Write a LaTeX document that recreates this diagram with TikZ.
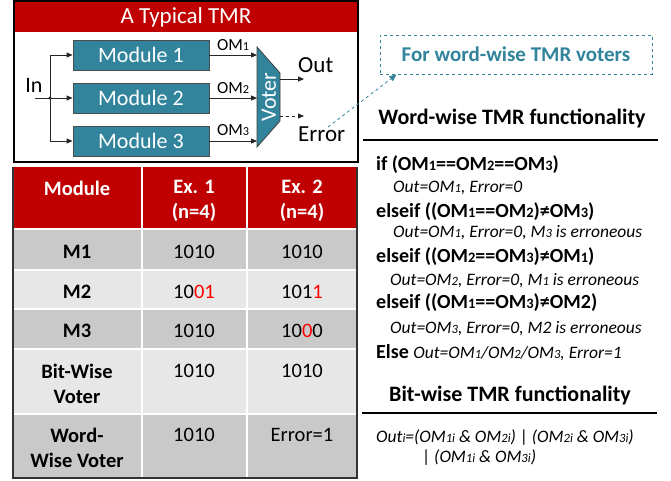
\documentclass[tikz,border=0pt]{standalone}
\usepackage{fontspec}
\setmainfont{Carlito}
\usetikzlibrary{arrows.meta,calc}
\definecolor{tmrred}{RGB}{192,0,0}
\definecolor{tealc}{RGB}{49,132,155}
\definecolor{rowdark}{RGB}{201,201,201}
\definecolor{rowlight}{RGB}{231,231,231}
\newcommand\fs[1]{\fontsize{#1}{#1}\selectfont}
\newcommand\sdg[1]{\scalebox{0.72}{#1}}
\begin{document}
\begin{tikzpicture}[x=1pt,y=-1pt,
  modbox/.style={draw=black!70, line width=0.8pt, fill=tealc, text=white,
    minimum width=136pt, minimum height=30pt, inner sep=0pt, font=\fs{22}},
  sig/.style={draw=black!85, line width=0.9pt, -{Triangle[length=6pt,width=5pt]}},
  lbl/.style={inner sep=0pt, font=\fs{23}},
  oml/.style={inner sep=0pt, font=\fs{17}},
  cellt/.style={inner sep=0pt, align=center, font=\fontsize{20.5}{25}\selectfont},
  cellh/.style={inner sep=0pt, align=center, text=white, font=\bfseries\fontsize{20.5}{25}\selectfont},
  cellb/.style={inner sep=0pt, align=center, font=\bfseries\fontsize{20.5}{25}\selectfont},
  codeb/.style={anchor=west, inner sep=0pt, font=\bfseries\fs{20}},
  codei/.style={anchor=west, inner sep=0pt, font=\itshape\fs{17.5}},
  headt/.style={inner sep=0pt, font=\bfseries\fs{22}}]

\fill[white] (0,0) rectangle (671,480);
\useasboundingbox (0,0) rectangle (671,480);

% ---------- TMR block diagram ----------
\fill[tmrred] (14,1) rectangle (358,32);
\draw[line width=2pt] (14,1) rectangle (358,162);
\node[inner sep=0pt, text=white, font=\fs{23}] (title) at (186,17) {A Typical TMR};

\node[modbox] (m1) at (141,55) {Module 1};
\node[modbox] (m2) at (141,98) {Module 2};
\node[modbox] (m3) at (141,141) {Module 3};

\node[lbl, font=\fs{22}] (inl) at (34,85) {In};
\coordinate (ins) at (35,98);
\coordinate (br) at (50,98);
\draw[sig] (ins) -- (m2.west);
\draw[sig] (br) |- (m1.west);
\draw[sig] (br) |- (m3.west);
\fill[black!85] (br) circle (1.6pt);

% voter
\draw[black!75, line width=0.8pt, fill=tealc] (257,47) -- (280,73) -- (280,121) -- (257,147) -- cycle;
\node[inner sep=0pt, rotate=90, text=white, font=\fs{22}] (voter) at (269,97) {Voter};
\coordinate (v1) at (257,55);
\coordinate (v2) at (257,98);
\coordinate (v3) at (257,141);
\draw[sig] (m1.east) -- (v1);
\draw[sig] (m2.east) -- (v2);
\draw[sig] (m3.east) -- (v3);
\node[oml] (om1) at (233,45) {OM\sdg{1}};
\node[oml] (om2) at (233,88) {OM\sdg{2}};
\node[oml] (om3) at (233,130) {OM\sdg{3}};

\coordinate (vo) at (280,79);
\coordinate (ve) at (280,116);
\coordinate (vot) at (304,79);
\coordinate (vet) at (304,116);
\node[lbl, anchor=west] (out) at (298,65) {Out};
\node[lbl, anchor=west] (err) at (298,134) {Error};
\draw[sig] (vo) -- (vot);
\draw[sig, dashed] (ve) -- (vet);

% ---------- callout ----------
\node[draw=tealc, dashed, line width=1pt, minimum width=272pt, minimum height=39pt,
  inner sep=0pt, text=tealc, font=\bfseries\fs{21}] (cb) at (516,54.5) {For word-wise TMR voters};
\coordinate (errc) at (328,127);
\draw[tealc, dashed, line width=0.8pt, -{Triangle[length=7pt,width=6pt]}] (errc) -- ($(cb.south west)+(17,0)$);

% ---------- comparison table ----------
\fill[tmrred] (13,167) rectangle (357,229);
\fill[rowdark] (13,229) rectangle (357,270);
\fill[rowlight] (13,270) rectangle (357,309);
\fill[rowdark] (13,309) rectangle (357,349);
\fill[rowlight] (13,349) rectangle (357,414);
\fill[rowdark] (13,414) rectangle (357,478);
\foreach \yy in {229,270,309,349,414} \draw[white, line width=1.5pt] (13,\yy) -- (357,\yy);
\foreach \xx in {142,247} \draw[white, line width=1.5pt] (\xx,167) -- (\xx,478);
\draw[black!80, line width=1.5pt] (13,167) -- (13,478) -- (357,478) -- (357,167);

\node[cellh] (hmod) at (77,188) {Module};
\node[cellh] (hex1) at (194,200.5) {Ex. 1\\(n=4)};
\node[cellh] (hex2) at (302,200.5) {Ex. 2\\(n=4)};

\node[cellb] (rm1) at (77,252) {M1};
\node[cellt] (a1) at (194,252) {1010};
\node[cellt] (b1) at (302,252) {1010};

\node[cellb] (rm2) at (77,292) {M2};
\node[cellt] (a2) at (194,292) {10\textcolor{red}{01}};
\node[cellt] (b2) at (302,292) {101\textcolor{red}{1}};

\node[cellb] (rm3) at (77,331) {M3};
\node[cellt] (a3) at (194,331) {1010};
\node[cellt] (b3) at (302,331) {10\textcolor{red}{0}0};

\node[cellb] (rbw) at (77,383.5) {Bit-Wise\\Voter};
\node[cellt] (a4) at (194,371) {1010};
\node[cellt] (b4) at (302,371) {1010};

\node[cellb] (rww) at (77,447.5) {Word-\\Wise Voter};
\node[cellt] (a5) at (194,435) {1010};
\node[cellt] (b5) at (302,435) {Error=1};

% ---------- functionality text ----------
\node[headt] (wwh) at (512,118) {Word-wise TMR functionality};
\draw[line width=2pt] (363,140) -- (658,140);

\node[codeb] (c1) at (376,165) {if (OM\sdg{1}==OM\sdg{2}==OM\sdg{3})};
\node[codei] (c2) at (393,188) {Out=OM\sdg{1}, Error=0};
\node[codeb] (c3) at (376,212) {elseif ((OM\sdg{1}==OM\sdg{2})≠OM\sdg{3})};
\node[codei] (c4) at (393,233) {Out=OM\sdg{1}, Error=0, M\sdg{3} is erroneous};
\node[codeb] (c5) at (376,257) {elseif ((OM\sdg{2}==OM\sdg{3})≠OM\sdg{1})};
\node[codei] (c6) at (390,281) {Out=OM\sdg{2}, Error=0, M\sdg{1} is erroneous};
\node[codeb] (c7) at (376,303) {elseif ((OM\sdg{1}==OM\sdg{3})≠OM2)};
\node[codei] (c8) at (390,329) {Out=OM\sdg{3}, Error=0, M2 is erroneous};
\node[codeb] (c9) at (376,353) {Else {\mdseries\itshape\fs{17.5}Out=OM\sdg{1}/OM\sdg{2}/OM\sdg{3}, Error=1}};

\node[headt] (bwh) at (510,395) {Bit-wise TMR functionality};
\draw[line width=2pt] (362,413) -- (657,413);

\node[codei] (d1) at (376,438) {Out\sdg{i}=(OM\sdg{1i} \& OM\sdg{2i}) {\upshape|} (OM\sdg{2i} \& OM\sdg{3i})};
\node[codei] (d2) at (422,458) {{\upshape|} (OM\sdg{1i} \& OM\sdg{3i})};
\end{tikzpicture}
\end{document}
